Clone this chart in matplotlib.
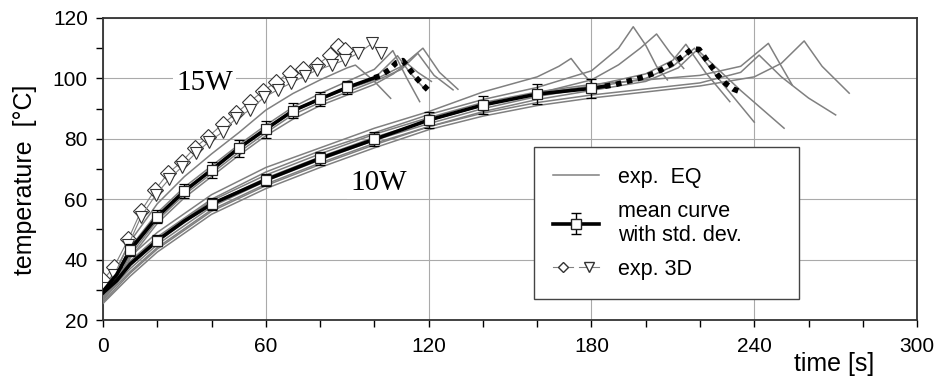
import matplotlib
matplotlib.use('Agg')
import matplotlib.pyplot as plt
from matplotlib.lines import Line2D
from matplotlib.legend_handler import HandlerTuple
from matplotlib.ticker import MultipleLocator

plt.rcParams['font.family'] = ['Liberation Sans', 'DejaVu Sans']

# ---- 15 W : single EQ experiments (rise on a common grid, then own peak / decay)
rise15_t = [0, 5, 10, 20, 30, 40, 50, 60, 70, 80, 90]
eq15_rise = [
    [30.0, 37.0, 46.0, 58.5, 67.5, 75.0, 82.0, 89.5, 95.0, 99.5, 103.5],
    [29.0, 35.5, 44.0, 55.5, 64.0, 71.0, 78.0, 84.5, 90.5, 95.0, 99.0],
    [28.0, 34.0, 42.5, 54.0, 62.5, 69.5, 76.5, 83.0, 89.0, 93.0, 96.5],
    [27.5, 33.0, 41.5, 53.0, 61.5, 68.5, 75.5, 82.0, 88.0, 92.0, 95.5],
    [28.5, 34.5, 43.0, 54.5, 63.0, 70.0, 77.0, 83.5, 89.5, 93.5, 96.5],
    [26.5, 32.0, 40.5, 52.0, 60.5, 67.5, 74.5, 81.0, 86.5, 91.0, 94.5],
]
eq15_tail_t = [
    [93, 100, 106],
    [100, 106.8, 112, 116.7],
    [100, 108.5, 113, 118],
    [100, 110, 116, 122, 129],
    [100, 110, 117.9, 124, 130.8],
    [100, 107, 112, 116, 121],
]
eq15_tail_T = [
    [104.4, 99.0, 93.4],
    [103.0, 109.2, 100.0, 92.3],
    [100.0, 107.5, 102.0, 97.0],
    [99.0, 103.0, 108.3, 101.0, 96.2],
    [99.5, 104.0, 110.0, 102.0, 96.4],
    [98.0, 101.5, 105.0, 102.0, 99.0],
]

# ---- 10 W : single EQ experiments
eq10_t = [
    [0, 10, 20, 40, 60, 80, 100, 120, 140, 160, 168, 172.5, 176, 180],
    [0, 10, 20, 40, 60, 80, 100, 120, 140, 160, 180, 190, 195.4, 200, 204, 208],
    [0, 10, 20, 40, 60, 80, 100, 120, 140, 160, 180, 190, 198, 204, 209, 214],
    [0, 10, 20, 40, 60, 80, 100, 120, 140, 160, 180, 200, 210, 214.8, 222, 231],
    [0, 10, 20, 40, 60, 80, 100, 120, 140, 160, 180, 200, 210, 218, 229, 240],
    [0, 10, 20, 40, 60, 80, 100, 120, 140, 160, 180, 200, 212, 219, 235, 251],
    [0, 10, 20, 40, 60, 80, 100, 120, 140, 160, 180, 200, 220, 235, 245.2, 250, 254],
    [0, 10, 20, 40, 60, 80, 100, 120, 140, 160, 180, 200, 220, 235, 241.8, 250, 260, 270],
    [0, 10, 20, 40, 60, 80, 100, 120, 140, 160, 180, 200, 220, 240, 250, 258.4, 265, 275],
]
eq10_T = [
    [31, 41, 49, 61.5, 70.5, 77, 83.5, 89, 95.5, 100.5, 104, 106.6, 102.5, 98.5],
    [30, 39.5, 47.5, 60, 69, 76, 82, 88, 93, 97, 102.5, 110, 117.1, 111, 104, 99.5],
    [28.5, 38, 46, 58.5, 67, 74, 80.5, 86, 91, 95, 99.5, 104.5, 110, 114.7, 108.5, 103.3],
    [29, 38.5, 46.5, 58.5, 66.5, 73.5, 80, 86, 91, 95, 97.5, 101.5, 106, 111.3, 102, 92.3],
    [27.5, 37, 45, 57.5, 66, 73, 79.5, 85, 90, 94, 97, 100, 104, 110, 97.5, 85.5],
    [26, 35.5, 43.5, 56, 64.5, 71.5, 78, 84, 89, 93, 96, 99, 103.5, 109.5, 96, 83.5],
    [29.5, 39, 47, 59.5, 68, 75, 81.5, 87, 92, 95.5, 98, 99.5, 101, 104, 111.6, 104, 97.8],
    [27, 36, 44, 56.5, 65, 72, 78.5, 84, 88.5, 92, 94.5, 96.5, 98.5, 102, 107.7, 100.5, 93.5, 87.9],
    [25.5, 34.5, 42.5, 55, 63.5, 70.5, 77, 83, 87.5, 91, 93.5, 95.5, 97.5, 100.5, 105, 112.4, 104, 95.1],
]

# ---- mean curves
mean15_t = [0, 5, 10, 20, 30, 40, 50, 60, 70, 80, 90, 100]
mean15_T = [29.5, 35.0, 43.2, 54.2, 62.7, 69.7, 76.9, 83.2, 89.3, 93.2, 97.0, 100.2]
sq15_t = [10, 20, 30, 40, 50, 60, 70, 80, 90]
err15 = [2.0, 2.2, 2.4, 2.6, 2.8, 2.8, 2.5, 2.3, 2.3]
dot15_t = [100, 102, 105.4, 108.1, 110.5, 113, 115.2, 117.9, 120.4]
dot15_T = [100.2, 100.8, 102.8, 105.2, 105.9, 103.0, 100.4, 97.8, 95.6]

mean10_t = [0, 5, 10, 20, 30, 40, 60, 80, 100, 120, 140, 160, 180, 185]
mean10_T = [29.0, 33.0, 38.5, 46.3, 52.8, 58.4, 66.4, 73.5, 79.8, 86.2, 91.2, 94.8, 96.7, 97.4]
sq10_t = [20, 40, 60, 80, 100, 120, 140, 160, 180]
err10 = [1.8, 2.0, 2.0, 2.2, 2.3, 2.6, 3.0, 3.3, 3.2]
dot10_t = [185, 189, 192.7, 196.6, 200.3, 204, 207.5, 210.8, 214, 217, 219.7,
           221.8, 224.3, 226.7, 229.3, 232.2, 235.4]
dot10_T = [97.4, 98.0, 98.9, 99.8, 100.8, 102.0, 103.7, 105.5, 107.5, 109.7, 109.6,
           106.9, 103.9, 100.9, 98.4, 96.5, 95.4]

# ---- 3D experiments (15 W)
dia_t = [0, 4.1, 9.3, 14, 19.1, 24, 29, 33.9, 38.8, 44.1, 49, 54.1, 59, 63.9,
         68.8, 73.7, 78.9, 83.6, 86.6, 89.1]
dia_T = [33.2, 37.7, 46.7, 56.1, 63.0, 68.6, 72.4, 77.1, 80.7, 84.9, 88.4, 92.3,
         95.8, 98.9, 101.9, 103.0, 104.4, 107.7, 110.8, 109.4]
tri_t = [0, 4.1, 9.3, 14, 19.4, 24.3, 29.2, 34.1, 39, 44.3, 49, 54.1, 59.3, 64.3,
         69.2, 74.3, 79, 84.2, 89.1, 94, 99.2, 102.3]
tri_T = [30.5, 34.9, 44.8, 54.2, 61.4, 66.6, 70.8, 75.2, 79.0, 82.4, 86.8, 89.5,
         93.7, 96.2, 98.4, 100.8, 102.8, 104.4, 106.1, 108.3, 111.6, 108.3]

GRAY = '#808080'

fig = plt.figure(figsize=(9.35, 3.81), dpi=100)
ax = fig.add_axes([0.1102, 0.1601, 0.8706, 0.7927])

# gray single experiments
for r, tt, TT in zip(eq15_rise, eq15_tail_t, eq15_tail_T):
    ax.plot(rise15_t + tt, r + TT, color=GRAY, lw=1.1, zorder=3)
for tt, TT in zip(eq10_t, eq10_T):
    ax.plot(tt, TT, color=GRAY, lw=1.1, zorder=3)

# 3D experiments
ax.plot(dia_t, dia_T, color=GRAY, lw=0.8, marker='D', ms=8.5, mfc='white',
        mec='#333333', mew=0.8, zorder=4)
ax.plot(tri_t, tri_T, color=GRAY, lw=0.8, marker='v', ms=9, mfc='white',
        mec='#333333', mew=0.8, zorder=4)

# mean curves
for mt, mT, st, er, dt, dT in [(mean15_t, mean15_T, sq15_t, err15, dot15_t, dot15_T),
                               (mean10_t, mean10_T, sq10_t, err10, dot10_t, dot10_T)]:
    ax.plot(mt, mT, color='black', lw=2.6, zorder=5)
    ax.plot(dt, dT, color='black', lw=4, linestyle=(0, (1, 1)), zorder=5)
    sT = [mT[mt.index(t)] for t in st]
    ax.errorbar(st, sT, yerr=er, fmt='s', ms=7, mfc='white', mec='#222222',
                mew=0.9, ecolor='black', elinewidth=1.0, capsize=3.5, zorder=6)

# text labels for the powers
ax.text(37.5, 98.5, '15W', fontsize=21, family='Liberation Serif', ha='center',
        va='center', zorder=2, bbox=dict(facecolor='white', edgecolor='none', pad=2))
ax.text(101.5, 65.4, '10W', fontsize=21, family='Liberation Serif', ha='center',
        va='center', zorder=2, bbox=dict(facecolor='white', edgecolor='none', pad=2))

ax.set_xlim(0, 300)
ax.set_ylim(20, 120)
ax.xaxis.set_major_locator(MultipleLocator(60))
ax.xaxis.set_minor_locator(MultipleLocator(20))
ax.yaxis.set_major_locator(MultipleLocator(20))
ax.yaxis.set_minor_locator(MultipleLocator(10))
ax.grid(True, which='major', color='#aaaaaa', lw=0.8, zorder=0)
ax.set_axisbelow(True)
ax.tick_params(which='both', direction='out', length=5, width=1, labelsize=15)
ax.tick_params(axis='x', pad=7)
ax.tick_params(axis='y', pad=6)
for s in ax.spines.values():
    s.set_linewidth(1.3)
    s.set_color('#333333')

fig.text(834 / 935, 1 - 364 / 381, 'time [s]', fontsize=18, ha='center', va='center')
fig.text(25 / 935, 1 - 180 / 381, 'temperature  [°C]', fontsize=18, rotation=90,
         ha='center', va='center')

# legend
h_eq = Line2D([], [], color=GRAY, lw=1.1)
h_mean = ax.errorbar([float('nan')], [float('nan')], yerr=[1], fmt='-s', ms=7,
                     mfc='white', mec='#222222', color='black', lw=2.6,
                     ecolor='black', elinewidth=1.0, capsize=3.5)
h_d = Line2D([], [], color=GRAY, lw=0.8, marker='D', ms=5.5, mfc='white', mec='#333333')
h_v = Line2D([], [], color=GRAY, lw=0.8, marker='v', ms=6.5, mfc='white', mec='#333333')
leg = ax.legend([h_eq, h_mean, (h_d, h_v)],
                ['exp.  EQ', 'mean curve\nwith std. dev.', 'exp. 3D'],
                handler_map={tuple: HandlerTuple(ndivide=None, pad=0.3)},
                loc='lower left', mode='expand',
                bbox_to_anchor=(534 / 935, 82 / 381, 265 / 935, 152 / 381),
                bbox_transform=fig.transFigure, fontsize=15.5, frameon=True,
                fancybox=False, edgecolor='#444444', framealpha=1,
                handlelength=2.1, handletextpad=0.9, labelspacing=0.6,
                borderpad=0.9, borderaxespad=0)
leg.get_frame().set_linewidth(1.0)
leg.set_zorder(10)

fig.savefig('out.png', dpi=100)
